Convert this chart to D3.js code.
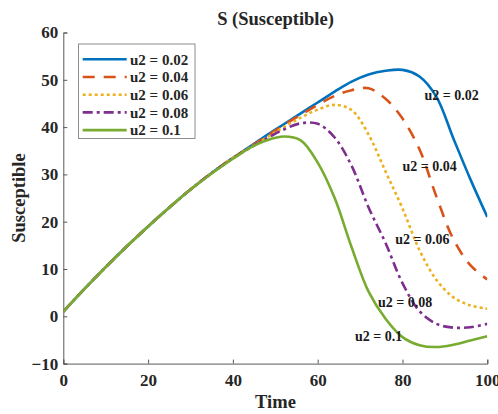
<!DOCTYPE html>
<html>
<head>
<meta charset="utf-8">
<script src="https://cdn.jsdelivr.net/npm/d3@7"></script>
<style>
  html, body { margin: 0; padding: 0; background: #fff; }
  svg text { font-family: "Liberation Serif", "Times New Roman", serif; font-weight: bold; }
</style>
</head>
<body>
<svg id="chart" width="498" height="414"></svg>
<script>
// Time grid shared by every run
const timeSteps = [0, 5, 10, 15, 20, 25, 30, 35, 40, 44, 48, 52, 56, 60, 64, 68, 72, 76, 80, 84, 88, 92, 96, 100];

// Susceptible population for each control level u2
const s002 = [1, 5.8, 10.4, 14.8, 19, 23, 26.8, 30.3, 33.5, 35.9, 38.3, 40.6, 42.9, 45.2, 47.5, 49.6, 51.1, 51.9, 52.1, 50.7, 46.4, 37.6, 29, 21];
const s004 = [1, 5.8, 10.4, 14.8, 19, 23, 26.8, 30.3, 33.5, 35.8, 38.1, 40.4, 42.6, 44.7, 46.6, 47.8, 48.2, 46, 41.8, 35.3, 25.3, 16.3, 10.8, 7.8];
const s006 = [1, 5.8, 10.4, 14.8, 19, 23, 26.8, 30.3, 33.5, 35.7, 37.8, 40, 42, 43.7, 44.7, 43.6, 38.4, 30.6, 22.8, 14, 7.7, 4, 2.3, 1.6];
const s008 = [1, 5.8, 10.4, 14.8, 19, 23, 26.8, 30.3, 33.4, 35.6, 37.6, 39.5, 40.8, 40.7, 37.8, 31.8, 23, 15.5, 7, 1.1, -1.6, -2.4, -2.3, -1.6];
const s010 = [1, 5.8, 10.4, 14.8, 19, 23, 26.8, 30.2, 33.3, 35.6, 37.2, 38, 37.2, 32.5, 25, 14.6, 5.2, -0.5, -4.4, -6.1, -6.5, -6, -5.1, -4.2];

const seriesNames = ["u2 = 0.02", "u2 = 0.04", "u2 = 0.06", "u2 = 0.08", "u2 = 0.1"];
const seriesValues = [s002, s004, s006, s008, s010];
const seriesColors = ["#0072BD", "#D95319", "#EDB120", "#7E2F8E", "#77AC30"];
const seriesDashes = [null, "12,9", "3,3", "10,4,3,4", null];

const xTicks = [0, 20, 40, 60, 80, 100];
const yTicks = [-10, 0, 10, 20, 30, 40, 50, 60];

// In-plot annotation positions, in data units (time, value)
const labelTime = [85.2, 80, 78.3, 74.2, 68.8];
const labelValue = [46.8, 31.8, 16.3, 3.1, -4.2];

const svg = d3.select("#chart");
const plotLeft = 63.3, plotRight = 487.3, plotTop = 32.5, plotBottom = 363.6;

const x = d3.scaleLinear().domain([0, 100]).range([plotLeft, plotRight]);
const y = d3.scaleLinear().domain([-10, 60]).range([plotBottom, plotTop]);

const axisColor = "#595959";
const textColor = "#262626";

// Clip region for the curves
svg.append("defs").append("clipPath").attr("id", "plotArea")
  .append("rect").attr("x", plotLeft).attr("y", plotTop)
  .attr("width", plotRight - plotLeft).attr("height", plotBottom - plotTop);

// Axes with inward ticks
const xAxis = svg.append("g").attr("transform", `translate(0,${plotBottom})`)
  .call(d3.axisBottom(x).tickValues(xTicks).tickSize(-4).tickPadding(8).tickFormat(d3.format("d")));
const yAxis = svg.append("g").attr("transform", `translate(${plotLeft},0)`)
  .call(d3.axisLeft(y).tickValues(yTicks).tickSize(-4).tickPadding(5).tickFormat(d3.format("d")));

[xAxis, yAxis].forEach(g => {
  g.select(".domain").attr("stroke", axisColor).attr("stroke-width", 1);
  g.selectAll(".tick line").attr("stroke", axisColor);
  g.selectAll(".tick text").attr("fill", textColor).style("font-size", "17px")
    .style("font-family", "'Liberation Serif', serif").style("font-weight", "bold");
});
xAxis.selectAll(".tick text").attr("dy", "0.85em");

// Curves
const line = d3.line()
  .x((d, i) => x(timeSteps[i]))
  .y(d => y(d))
  .curve(d3.curveCatmullRom.alpha(0.5));

const plot = svg.append("g").attr("clip-path", "url(#plotArea)");
seriesValues.forEach((vals, k) => {
  plot.append("path")
    .datum(vals)
    .attr("d", line)
    .attr("fill", "none")
    .attr("stroke", seriesColors[k])
    .attr("stroke-width", 2.6)
    .attr("stroke-dasharray", seriesDashes[k])
    .attr("stroke-linejoin", "round");
});

// Curve annotations
seriesNames.forEach((name, k) => {
  svg.append("text")
    .attr("x", x(labelTime[k]))
    .attr("y", y(labelValue[k]))
    .attr("dy", "0.35em")
    .attr("fill", "#1a1a1a")
    .style("font-size", "14px")
    .text(name);
});

// Title and axis labels
svg.append("text").attr("x", 275.5).attr("y", 19).attr("dy", "0.35em")
  .attr("text-anchor", "middle").attr("fill", textColor).style("font-size", "18.5px")
  .text("S (Susceptible)");
svg.append("text").attr("x", 275.5).attr("y", 402).attr("dy", "0.35em")
  .attr("text-anchor", "middle").attr("fill", textColor).style("font-size", "18.5px")
  .text("Time");
svg.append("text").attr("transform", "translate(19,198) rotate(-90)").attr("dy", "0.35em")
  .attr("text-anchor", "middle").attr("fill", textColor).style("font-size", "18.5px")
  .text("Susceptible");

// Legend
const legend = svg.append("g");
legend.append("rect").attr("x", 78.5).attr("y", 44).attr("width", 116.5).attr("height", 94.5)
  .attr("fill", "#fff").attr("stroke", "#8c8c8c").attr("stroke-width", 1);
seriesNames.forEach((name, k) => {
  const ly = 59.3 + k * 17.7;
  legend.append("line").attr("x1", 82.7).attr("x2", 126.7).attr("y1", ly).attr("y2", ly)
    .attr("stroke", seriesColors[k]).attr("stroke-width", 2.6)
    .attr("stroke-dasharray", seriesDashes[k]);
  legend.append("text").attr("x", 130).attr("y", ly).attr("dy", "0.35em")
    .attr("fill", textColor).style("font-size", "15px").text(name);
});
</script>
</body>
</html>
